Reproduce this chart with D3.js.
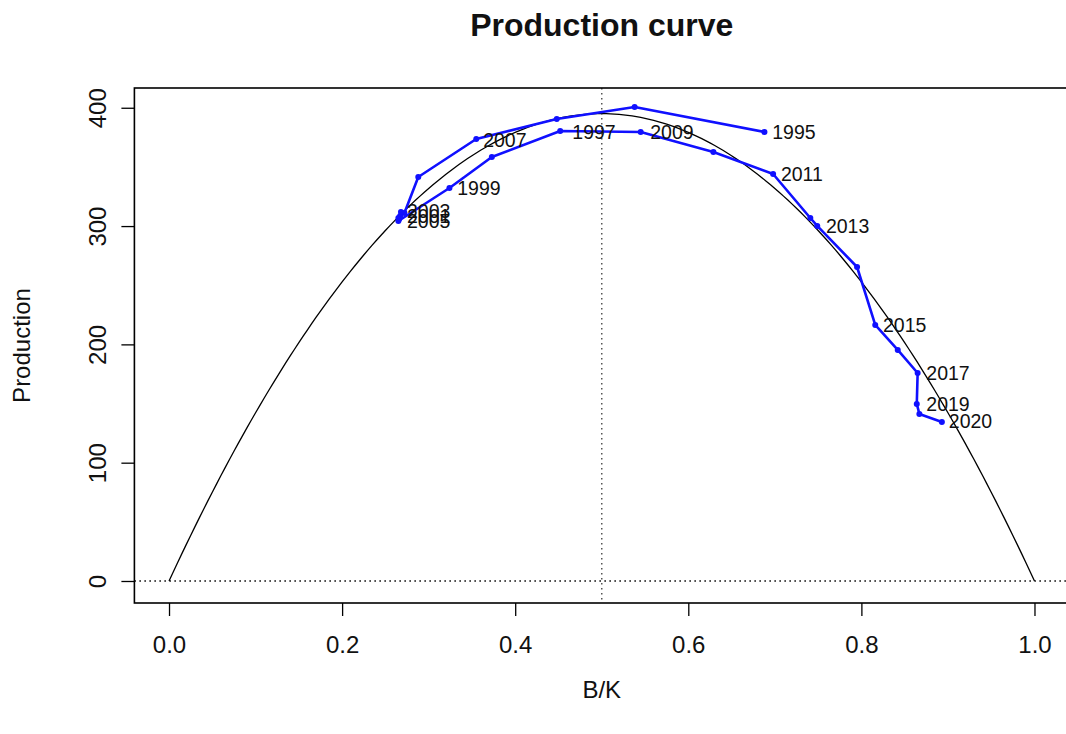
<!DOCTYPE html>
<html lang="en">
<head>
    <meta charset="UTF-8">
    <title>Production curve</title>
</head>
<style>
    body {
        margin: 0;
        background: #fff;
    }

    text {
        font-family: "Liberation Sans", Arial, sans-serif;
        fill: #111;
    }

    .domain {
        display: none;
    }
</style>
<body>
<script src="https://d3js.org/d3.v7.min.js"></script>
<script>
    const width = 1066, height = 734;

    // biomass trajectory, B/K and production by year
    const years = [1995, 1996, 1997, 1998, 1999, 2000, 2001, 2002, 2003, 2004, 2005, 2006, 2007,
        2008, 2009, 2010, 2011, 2012, 2013, 2014, 2015, 2016, 2017, 2018, 2019, 2020];
    const bk = [0.688, 0.538, 0.448, 0.355, 0.288, 0.272, 0.267, 0.265, 0.268, 0.266, 0.265, 0.324, 0.373,
        0.452, 0.545, 0.629, 0.698, 0.741, 0.749, 0.795, 0.816, 0.842, 0.865, 0.864, 0.867, 0.893];
    const production = [379.5, 400.7, 390.5, 373.6, 341.5, 311, 308.5, 306.8, 311.9, 306, 304.3, 332.2, 358.4,
        380.4, 379.5, 362.6, 344, 306.8, 300.1, 265.4, 216.4, 195.3, 175.8, 149.6, 141.2, 134.4];

    // year labels as placed on the plot (B/K, production of the label anchor)
    const labelYears = [1995, 1997, 1999, 2001, 2003, 2005, 2007, 2009, 2011, 2013, 2015, 2017, 2019, 2020];
    const labelBk = [0.697, 0.466, 0.333, 0.275, 0.275, 0.275, 0.363, 0.556, 0.707, 0.759, 0.825, 0.875, 0.875, 0.901];
    const labelProd = [379.5, 379.5, 332.2, 308.5, 312.8, 304.3, 372.8, 379.5, 344, 300.1, 216.4, 175.8, 149.6, 135.3];

    // Schaefer production curve parameters
    const msy = 395, bmsyK = 0.5;

    const xTicks = [0, 0.2, 0.4, 0.6, 0.8, 1.0];
    const yTicks = [0, 100, 200, 300, 400];

    const svg = d3.select("body")
        .append("svg")
        .attr("width", width)
        .attr("height", height);

    const x = d3.scaleLinear().domain([-0.04, 1.04]).range([134.4, 1069.1]);
    const y = d3.scaleLinear().domain([-18.6, 416.7]).range([603, 88]);

    // title
    svg.append("text")
        .attr("x", (134.4 + 1069.1) / 2)
        .attr("y", 36)
        .attr("text-anchor", "middle")
        .style("font-size", "32px")
        .style("font-weight", "bold")
        .text("Production curve");

    svg.append("defs").append("clipPath").attr("id", "plotclip")
        .append("rect")
        .attr("x", 134.4).attr("y", 88)
        .attr("width", 1069.1 - 134.4).attr("height", 603 - 88);

    const plot = svg.append("g").attr("clip-path", "url(#plotclip)");

    // reference lines
    plot.append("line")
        .attr("x1", 134.4).attr("x2", 1069.1)
        .attr("y1", y(0)).attr("y2", y(0))
        .attr("stroke", "#000")
        .attr("stroke-width", 1.4)
        .attr("stroke-dasharray", "1.5,3.5");

    plot.append("line")
        .attr("x1", x(bmsyK)).attr("x2", x(bmsyK))
        .attr("y1", 88).attr("y2", 603)
        .attr("stroke", "#555")
        .attr("stroke-width", 1.5)
        .attr("stroke-dasharray", "1.5,3.5");

    // production curve
    const curveX = d3.range(0, 1.0001, 0.005);
    plot.append("path")
        .datum(curveX)
        .attr("fill", "none")
        .attr("stroke", "#000")
        .attr("stroke-width", 1.3)
        .attr("d", d3.line()
            .x(d => x(d))
            .y(d => y(4 * msy * d * (1 - d))));

    // trajectory
    const traj = years.map((yr, i) => ({year: yr, bk: bk[i], p: production[i]}));

    plot.append("path")
        .datum(traj)
        .attr("fill", "none")
        .attr("stroke", "#1010ff")
        .attr("stroke-width", 2.6)
        .attr("stroke-linejoin", "round")
        .attr("d", d3.line()
            .x(d => x(d.bk))
            .y(d => y(d.p)));

    plot.selectAll("circle.pt")
        .data(traj)
        .enter().append("circle")
        .attr("class", "pt")
        .attr("cx", d => x(d.bk))
        .attr("cy", d => y(d.p))
        .attr("r", 3)
        .attr("fill", "#1010ff");

    plot.selectAll("text.lab")
        .data(labelYears)
        .enter().append("text")
        .attr("class", "lab")
        .attr("x", (d, i) => x(labelBk[i]))
        .attr("y", (d, i) => y(labelProd[i]))
        .attr("dy", "0.35em")
        .style("font-size", "19.5px")
        .text(d => d);

    // box
    svg.append("rect")
        .attr("x", 134.4).attr("y", 88)
        .attr("width", 1069.1 - 134.4).attr("height", 603 - 88)
        .attr("fill", "none")
        .attr("stroke", "#000")
        .attr("stroke-width", 1.6);

    // axes
    const xAxis = svg.append("g")
        .attr("transform", "translate(0,603)")
        .call(d3.axisBottom(x).tickValues(xTicks).tickFormat(d3.format(".1f"))
            .tickSizeInner(13).tickSizeOuter(0).tickPadding(20));
    xAxis.selectAll(".tick line").attr("stroke", "#000").attr("stroke-width", 1.3);
    xAxis.selectAll(".tick text").style("font-size", "24px").attr("fill", "#111");

    const yAxis = svg.append("g")
        .attr("transform", "translate(134.4,0)")
        .call(d3.axisLeft(y).tickValues(yTicks).tickSizeInner(13).tickSizeOuter(0));
    yAxis.selectAll(".tick line").attr("stroke", "#000").attr("stroke-width", 1.3);
    yAxis.selectAll(".tick text")
        .attr("x", null).attr("dy", null)
        .attr("transform", "translate(-37,0) rotate(-90)")
        .attr("text-anchor", "middle")
        .attr("dy", "0.35em")
        .style("font-size", "24px")
        .attr("fill", "#111");

    // axis titles
    svg.append("text")
        .attr("x", (134.4 + 1069.1) / 2)
        .attr("y", 698)
        .attr("text-anchor", "middle")
        .style("font-size", "24px")
        .text("B/K");

    svg.append("text")
        .attr("transform", "translate(30," + (88 + 603) / 2 + ") rotate(-90)")
        .attr("text-anchor", "middle")
        .style("font-size", "24px")
        .text("Production");
</script>
</body>
</html>
